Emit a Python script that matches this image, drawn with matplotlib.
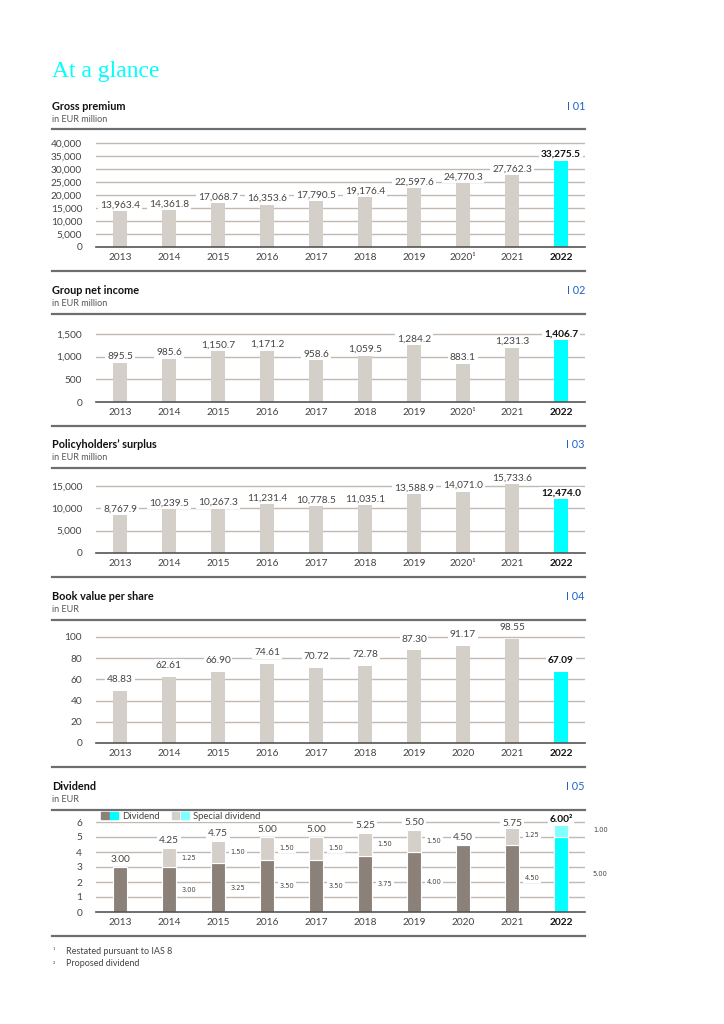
import matplotlib
matplotlib.use("Agg")
import matplotlib.pyplot as plt
from matplotlib.lines import Line2D
from matplotlib.patches import Patch
from matplotlib.legend_handler import HandlerTuple

plt.rcParams['font.family'] = ['Lato', 'DejaVu Sans']

# ---------------- data ----------------
years = ['2013', '2014', '2015', '2016', '2017', '2018', '2019', '2020', '2021', '2022']
years_fn = ['2013', '2014', '2015', '2016', '2017', '2018', '2019', '2020\u00b9', '2021', '2022']

gross_premium = [13963.4, 14361.8, 17068.7, 16353.6, 17790.5, 19176.4, 22597.6, 24770.3, 27762.3, 33275.5]
net_income = [895.5, 985.6, 1150.7, 1171.2, 958.6, 1059.5, 1284.2, 883.1, 1231.3, 1406.7]
surplus = [8767.9, 10239.5, 10267.3, 11231.4, 10778.5, 11035.1, 13588.9, 14071.0, 15733.6, 12474.0]
book_value = [48.83, 62.61, 66.90, 74.61, 70.72, 72.78, 87.30, 91.17, 98.55, 67.09]
dividend = [3.00, 3.00, 3.25, 3.50, 3.50, 3.75, 4.00, 4.50, 4.50, 5.00]
special_dividend = [0.00, 1.25, 1.50, 1.50, 1.50, 1.50, 1.50, 0.00, 1.25, 1.00]

# ---------------- style ----------------
W, H = 724, 1024
BAR = '#D5CFC9'
HI = '#00FFFF'
HI_LIGHT = '#80FFFF'
DARK = '#8B8178'
GRID = '#C2BAB2'
TXT = '#444444'
RULE = '#6E6E6E'
BLUE = '#1E64C8'
X_LEFT, X_RIGHT = 96, 585
C0, STEP = 120, 49
BW = 0.29

fig = plt.figure(figsize=(W / 100, H / 100), dpi=100)
fig.patch.set_facecolor('white')

def fy(py):
    return 1 - py / H

def fx(px):
    return px / W

def rule(py, lw=1.6):
    fig.add_artist(Line2D([fx(52), fx(585)], [fy(py), fy(py)], color=RULE, lw=lw,
                          transform=fig.transFigure))

fig.text(fx(52), fy(72), 'At a glance', color=HI, fontsize=17,
         family='Liberation Serif', va='center', ha='left')

xlim = ((X_LEFT - C0) / STEP, (X_RIGHT - C0) / STEP)
xs = list(range(len(years)))

def make_axes(y0, ppu, ytop_px, ticks, tick_fmt, xlabels):
    ax = fig.add_axes([fx(X_LEFT), fy(y0), (X_RIGHT - X_LEFT) / W, (y0 - ytop_px) / H])
    ax.set_xlim(*xlim)
    ax.set_ylim(0, (y0 - ytop_px) / ppu)
    for s in ['top', 'right', 'left']:
        ax.spines[s].set_visible(False)
    ax.spines['bottom'].set_color('#555555')
    ax.spines['bottom'].set_linewidth(1.2)
    ax.set_yticks(ticks)
    ax.set_yticklabels([tick_fmt(t) for t in ticks])
    ax.set_xticks(xs)
    ax.set_xticklabels(xlabels)
    ax.tick_params(length=0, labelsize=7.3, colors=TXT, pad=4)
    ax.tick_params(axis='y', pad=10)
    lab = ax.get_xticklabels()[-1]
    lab.set_fontweight('bold')
    lab.set_color('#111111')
    for t in ticks:
        if t != 0:
            ax.axhline(t, color=GRID, lw=1.0, zorder=0)
    ax.set_axisbelow(True)
    ax.patch.set_alpha(0)
    return ax

def header(title, sub, tag, ty, rule_top, rule_bot):
    fig.text(fx(52), fy(ty), title, fontsize=7.8, fontweight='bold', color='#111111', va='center')
    fig.text(fx(52), fy(ty + 13), sub, fontsize=6.5, color='#555555', va='center')
    fig.text(fx(585), fy(ty), tag, fontsize=7.8, color=BLUE, va='center', ha='right')
    rule(rule_top)
    rule(rule_bot)

def value_labels(ax, vals, fmt, off):
    for i, v in enumerate(vals):
        last = i == len(vals) - 1
        ax.annotate(fmt(v), (i, v), xytext=(0, off),
                    textcoords='offset points', ha='center', va='bottom',
                    fontsize=7.3, color='#111111' if last else TXT,
                    fontweight='bold' if last else 'normal',
                    bbox=dict(fc='white', ec='none', pad=1.2), zorder=5, annotation_clip=False)

def simple_panel(vals, y0, ppu, top_px, ticks, tick_fmt, xlabels, fmt, off):
    ax = make_axes(y0, ppu, top_px, ticks, tick_fmt, xlabels)
    colors = [BAR] * (len(vals) - 1) + [HI]
    ax.bar(xs, vals, width=BW, color=colors, zorder=2)
    value_labels(ax, vals, fmt, off)
    return ax

thousands = lambda t: f'{t:,.0f}'

# Panel 1: Gross premium
header('Gross premium', 'in EUR million', 'I 01', 106, 129, 271)
simple_panel(gross_premium, 247, 104 / 40000, 137,
             list(range(0, 40001, 5000)), thousands, years_fn, lambda v: f'{v:,.1f}', 1)

# Panel 2: Group net income
header('Group net income', 'in EUR million', 'I 02', 291, 314, 426)
simple_panel(net_income, 402, 68 / 1500, 318,
             [0, 500, 1000, 1500], thousands, years_fn, lambda v: f'{v:,.1f}', 0)

# Panel 3: Policyholders' surplus
header('Policyholders\u2019 surplus', 'in EUR million', 'I 03', 445, 468, 577)
simple_panel(surplus, 553, 67 / 15000, 472,
             [0, 5000, 10000, 15000], thousands, years_fn, lambda v: f'{v:,.1f}', 0)

# Panel 4: Book value per share
header('Book value per share', 'in EUR', 'I 04', 597, 620, 767)
simple_panel(book_value, 743, 106 / 100, 624,
             [0, 20, 40, 60, 80, 100], lambda t: f'{t:.0f}', years, lambda v: f'{v:.2f}', 5)

# Panel 5: Dividend
header('Dividend', 'in EUR', 'I 05', 787, 810, 936)
ax5 = make_axes(912, 15, 814, list(range(0, 7)), lambda t: f'{t:.0f}', years)
n = len(years)
div_colors = [DARK] * (n - 1) + [HI]
spec_colors = [BAR] * (n - 1) + [HI_LIGHT]
ax5.bar(xs, dividend, width=BW, color=div_colors, edgecolor='white', linewidth=0.8, zorder=2)
ax5.bar(xs, special_dividend, bottom=dividend, width=BW, color=spec_colors,
        edgecolor='white', linewidth=0.8, zorder=2)
totals = [d + s for d, s in zip(dividend, special_dividend)]
for i, t in enumerate(totals):
    last = i == n - 1
    off = -1.5 if t > 5.6 else 2
    ax5.annotate(f'{t:.2f}' + ('\u00b2' if last else ''), (i, t), xytext=(0, off),
                 textcoords='offset points', ha='center', va='bottom', fontsize=7.3,
                 color='#111111' if last else TXT, fontweight='bold' if last else 'normal',
                 bbox=dict(fc='white', ec='none', pad=1.2), zorder=5, annotation_clip=False)
    if special_dividend[i] > 0:
        dx = 0.65 if last else 0.26
        ax5.text(i + dx, dividend[i] + special_dividend[i] / 2, f'{special_dividend[i]:.2f}',
                 ha='left', va='center', fontsize=4.8, color=TXT, family='DejaVu Sans',
                 bbox=dict(fc='white', ec='none', pad=1.0), zorder=5, clip_on=False)
        ax5.text(i + dx, dividend[i] / 2, f'{dividend[i]:.2f}',
                 ha='left', va='center', fontsize=4.8, color=TXT, family='DejaVu Sans',
                 bbox=dict(fc='white', ec='none', pad=1.0), zorder=5, clip_on=False)

h1 = (Patch(color=DARK), Patch(color=HI))
h2 = (Patch(color=BAR), Patch(color=HI_LIGHT))
leg = ax5.legend([h1, h2], ['Dividend', 'Special dividend'],
                 handler_map={tuple: HandlerTuple(ndivide=None, pad=0.15)},
                 loc='lower left', bbox_to_anchor=(0.008, 6.02 / ax5.get_ylim()[1]),
                 ncol=2, frameon=True, fontsize=6.8, handlelength=1.8, handleheight=0.8,
                 handletextpad=0.5, columnspacing=1.2, borderpad=0.1, borderaxespad=0)
leg.get_frame().set_facecolor('white')
leg.get_frame().set_edgecolor('none')
for t in leg.get_texts():
    t.set_color(TXT)

# footnotes
fig.text(fx(53), fy(951), '\u00b9', fontsize=5, color='#555555', va='center')
fig.text(fx(66), fy(951), 'Restated pursuant to IAS 8', fontsize=6.5, color='#444444', va='center')
fig.text(fx(53), fy(964), '\u00b2', fontsize=5, color='#555555', va='center')
fig.text(fx(66), fy(964), 'Proposed dividend', fontsize=6.5, color='#444444', va='center')

fig.savefig('out.png', dpi=100, facecolor='white')
